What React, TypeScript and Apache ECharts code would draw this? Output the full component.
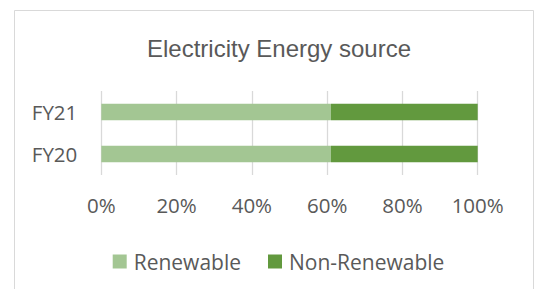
import React, { useEffect, useRef } from "react";
import * as echarts from "echarts";

const categories = ["FY20", "FY21"];
const renewable = [61, 61];
const nonRenewable = [39, 39];
const seriesNames = ["Renewable", "Non-Renewable"];
const xTicks = [0, 20, 40, 60, 80, 100];

const FONT = "'Open Sans', sans-serif";
const GRAY = "#595959";

export default function App() {
  const ref = useRef<HTMLDivElement>(null);
  useEffect(() => {
    if (!ref.current) return;
    const chart = echarts.init(ref.current, undefined, { renderer: "svg" });
    chart.setOption({
      animation: false,
      backgroundColor: "#ffffff",
      graphic: [
        {
          type: "rect",
          shape: { x: 14.5, y: 10.5, width: 519, height: 300 },
          style: { fill: "none", stroke: "#d9d9d9", lineWidth: 1 },
          silent: true,
        },
      ],
      title: {
        text: "Electricity Energy source",
        left: 274,
        textAlign: "center",
        top: 31,
        textStyle: {
          fontFamily: "'Liberation Sans', Arial, sans-serif",
          fontSize: 24,
          fontWeight: "normal",
          color: GRAY,
        },
      },
      legend: {
        data: seriesNames,
        left: 112.7,
        top: 251,
        padding: 0,
        itemWidth: 14,
        itemHeight: 14,
        itemGap: 27,
        icon: "rect",
        textStyle: { fontFamily: FONT, fontSize: 21, color: GRAY, padding: [0, 0, 0, 2] },
      },
      grid: { left: 101.3, right: 57.3, top: 91, height: 84, containLabel: false },
      xAxis: {
        type: "value",
        min: xTicks[0],
        max: xTicks[xTicks.length - 1],
        interval: 20,
        axisLine: { show: false },
        axisTick: { show: false },
        splitLine: { show: true, lineStyle: { color: "#d9d9d9", width: 1.3 } },
        axisLabel: {
          formatter: "{value}%",
          margin: 19,
          fontFamily: FONT,
          fontSize: 20.5,
          color: GRAY,
        },
      },
      yAxis: {
        type: "category",
        data: categories,
        axisLine: { show: false },
        axisTick: { show: false },
        axisLabel: { margin: 24, fontFamily: FONT, fontSize: 20.5, color: GRAY },
      },
      series: [
        {
          name: seriesNames[0],
          type: "bar",
          stack: "total",
          data: renewable,
          barWidth: 16.5,
          itemStyle: { color: "#a3c693" },
        },
        {
          name: seriesNames[1],
          type: "bar",
          stack: "total",
          data: nonRenewable,
          barWidth: 16.5,
          itemStyle: { color: "#62993e" },
        },
      ],
    });
    return () => chart.dispose();
  }, []);
  return (
    <div
      ref={ref}
      style={{ position: "fixed", left: 0, top: 0, width: 535, height: 289 }}
    />
  );
}
